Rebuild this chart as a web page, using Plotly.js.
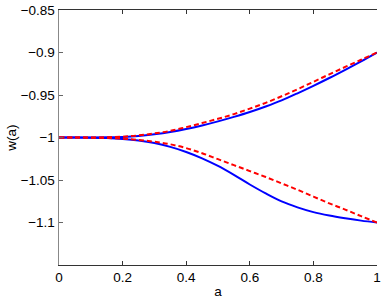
<!DOCTYPE html>
<html>
<head>
<meta charset="utf-8">
<script src="https://cdn.plot.ly/plotly-3.0.1.min.js"></script>
<style>html,body{margin:0;padding:0;background:#fff;}#chart{width:384px;height:300px;}</style>
</head>
<body>
<div id="chart"></div>
<script>
const aVals = [0,0.05,0.1,0.15,0.2,0.25,0.3,0.35,0.4,0.45,0.5,0.55,0.6,0.65,0.7,0.75,0.8,0.85,0.9,0.95,1];
const upperBlue = [-1,-1,-1,-0.9998,-0.9993,-0.9982,-0.9962,-0.9935,-0.990,-0.9858,-0.981,-0.9757,-0.970,-0.9635,-0.9563,-0.948,-0.9392,-0.930,-0.9203,-0.9103,-0.900];
const upperRed = [-1,-1,-1,-0.9997,-0.999,-0.9975,-0.9952,-0.9922,-0.9878,-0.983,-0.978,-0.9725,-0.966,-0.9592,-0.9515,-0.9432,-0.9345,-0.9257,-0.917,-0.9085,-0.900];
const lowerBlue = [-1,-1,-1.0002,-1.0007,-1.0017,-1.0035,-1.0065,-1.011,-1.017,-1.0245,-1.0335,-1.044,-1.0553,-1.0658,-1.0752,-1.0822,-1.0878,-1.0918,-1.095,-1.0978,-1.100];
const lowerRed = [-1,-1,-1.0002,-1.0006,-1.0013,-1.0028,-1.005,-1.008,-1.0125,-1.0185,-1.0255,-1.0325,-1.0395,-1.0465,-1.054,-1.0615,-1.0695,-1.0775,-1.0848,-1.0925,-1.100];
const xTicks = [0,0.2,0.4,0.6,0.8,1];
const xTickText = ['0','0.2','0.4','0.6','0.8','1'];
const yTicks = [-1.1,-1.05,-1,-0.95,-0.9,-0.85];
const yTickText = ['\u22121.1','\u22121.05','\u22121','\u22120.95','\u22120.9','\u22120.85'];

const font = {family:'Liberation Sans, Arial, sans-serif', size:13.5, color:'#000'};
const traces = [
  {x:aVals, y:upperBlue, mode:'lines', line:{color:'#0000ff', width:2, shape:'spline'}},
  {x:aVals, y:lowerBlue, mode:'lines', line:{color:'#0000ff', width:2, shape:'spline'}},
  {x:aVals, y:upperRed, mode:'lines', line:{color:'#ff0000', width:2, dash:'5px,3px', shape:'spline'}},
  {x:aVals, y:lowerRed, mode:'lines', line:{color:'#ff0000', width:2, dash:'5px,3px', shape:'spline'}}
];
const layout = {
  width:384, height:300,
  margin:{l:59, r:7, t:10, b:35},
  paper_bgcolor:'#fff', plot_bgcolor:'#fff',
  showlegend:false,
  font:font,
  xaxis:{range:[0,1], tickvals:xTicks, ticktext:xTickText, ticks:'inside', ticklen:4, tickcolor:'#333',
         showline:true, linecolor:'#333', linewidth:1, mirror:'ticks', showgrid:false, zeroline:false,
         title:{text:'a', font:font, standoff:2}},
  yaxis:{range:[-1.15,-0.85], tickvals:yTicks, ticktext:yTickText, ticks:'inside', ticklen:4, tickcolor:'#666',
         showline:true, linecolor:'#888', linewidth:1.5, mirror:false, showgrid:false, zeroline:false,
         title:{text:'w(a)', font:font, standoff:1}},
  yaxis2:{range:[-1.15,-0.85], overlaying:'y', side:'right', tickvals:yTicks, showticklabels:false,
          ticks:'inside', ticklen:4, tickcolor:'#333', showline:true, linecolor:'#333', linewidth:1,
          showgrid:false, zeroline:false}
};
Plotly.newPlot('chart', traces, layout, {staticPlot:true, displayModeBar:false});
</script>
</body>
</html>
